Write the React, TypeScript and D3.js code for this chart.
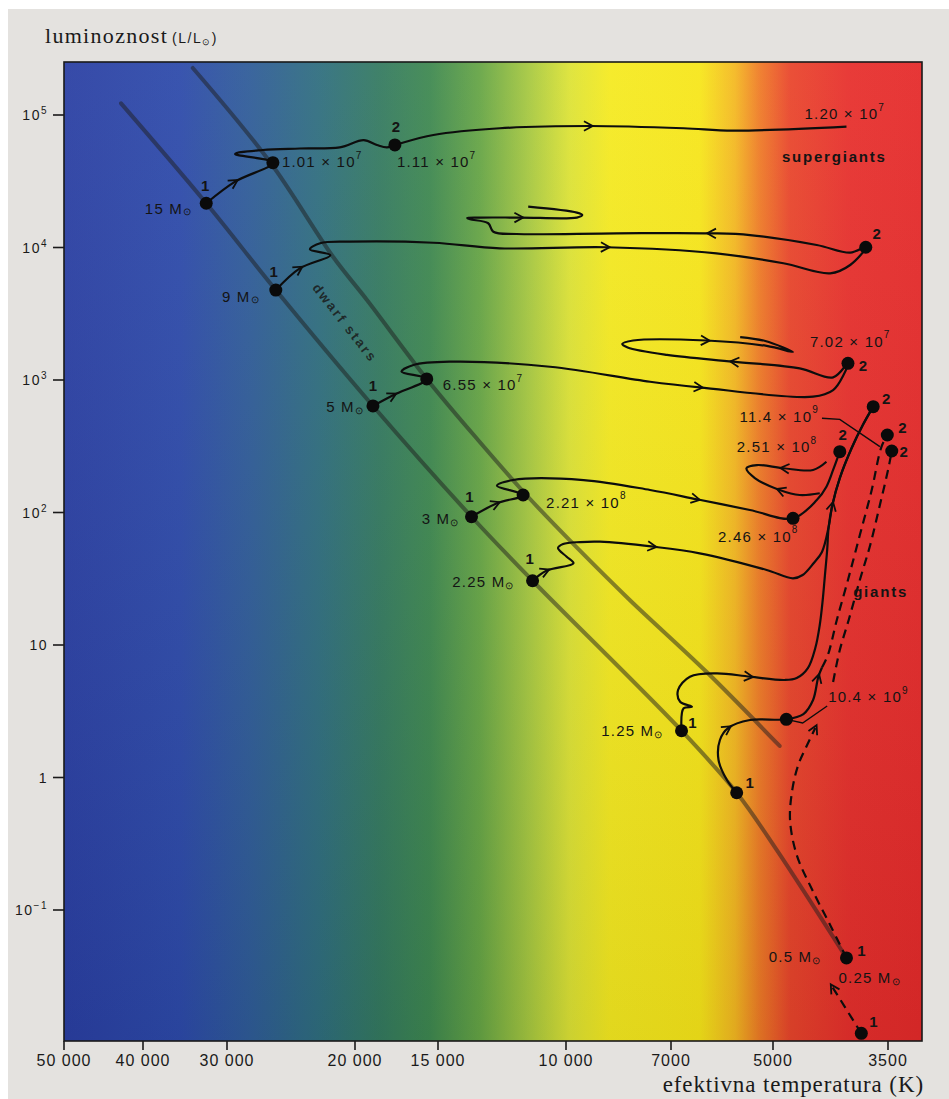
import React from 'react';
import * as d3 from 'd3';

type P = [number, number]; // [log10 Teff, log10 L/Lsun]

// ---------------- data ----------------
const TEMP_TICKS = [50000, 40000, 30000, 20000, 15000, 10000, 7000, 5000, 3500];
const TEMP_LABELS = ['50 000', '40 000', '30 000', '20 000', '15 000', '10 000', '7000', '5000', '3500'];
const LUM_TICKS = [1e5, 1e4, 1e3, 1e2, 10, 1, 0.1];
const LUM_BASE = ['10', '10', '10', '10', '10', '1', '10'];
const LUM_EXP = ['5', '4', '3', '2', '', '', '\u22121'];

// main-sequence band edges
const ZAMS: P[] = [[4.629, 5.088], [4.508, 4.334], [4.410, 3.679], [4.274, 2.804], [4.130, 1.968], [4.046, 1.485], [3.830, 0.353], [3.751, -0.115], [3.694, -0.547], [3.600, -1.362]];
const TAMS: P[] = [[4.528, 5.355], [4.418, 4.645], [4.331, 3.928], [4.283, 3.604], [4.193, 3.008], [4.121, 2.547], [4.052, 2.117], [3.982, 1.725], [3.906, 1.340], [3.794, 0.796], [3.690, 0.238]];

// evolutionary tracks
const TRACK_15: P[] = [[4.508, 4.334], [4.466, 4.497], [4.414, 4.640], [4.466, 4.706], [4.428, 4.736], [4.377, 4.747], [4.322, 4.756], [4.288, 4.811], [4.268, 4.774], [4.253, 4.756], [4.241, 4.774], [4.183, 4.849], [4.091, 4.900], [3.965, 4.917], [3.827, 4.900], [3.756, 4.882], [3.600, 4.912]];
const ARROWS_15 = [[1, 1], [13, 1]];
const TRACK_9: P[] = [[4.410, 3.679], [4.377, 3.843], [4.335, 3.943], [4.363, 3.986], [4.349, 4.032], [4.308, 4.044], [4.183, 4.036], [4.091, 3.994], [3.940, 4.002], [3.780, 3.956], [3.685, 3.881], [3.622, 3.805], [3.595, 3.868], [3.574, 4.002], [3.595, 3.961], [3.640, 4.019], [3.732, 4.094], [3.789, 4.107], [3.925, 4.107], [4.068, 4.102], [4.100, 4.119], [4.107, 4.183], [4.132, 4.213], [4.136, 4.223], [4.118, 4.226], [4.063, 4.226], [3.984, 4.226], [3.976, 4.245], [3.984, 4.263], [4.052, 4.308]];
const ARROWS_9 = [[1, 1], [8, 1], [17, 1], [25, 1]];
const TRACK_5: P[] = [[4.274, 2.804], [4.243, 2.887], [4.193, 3.008], [4.231, 3.063], [4.213, 3.113], [4.160, 3.138], [4.022, 3.100], [3.876, 2.987], [3.804, 2.945], [3.645, 2.874], [3.618, 2.924], [3.604, 3.038], [3.598, 3.126], [3.618, 3.020], [3.663, 3.088], [3.756, 3.138], [3.851, 3.189], [3.909, 3.245], [3.917, 3.272], [3.901, 3.298], [3.794, 3.298], [3.708, 3.257], [3.672, 3.211], [3.710, 3.294], [3.746, 3.324]];
const ARROWS_5 = [[1, 1], [8, 1], [15, 1], [20, 1]];
const TRACK_3: P[] = [[4.130, 1.968], [4.095, 2.069], [4.059, 2.132], [4.095, 2.202], [4.073, 2.245], [3.974, 2.245], [3.876, 2.170], [3.808, 2.100], [3.732, 2.019], [3.672, 1.956], [3.640, 2.094], [3.627, 2.195], [3.618, 2.321], [3.609, 2.459]];
const ARROWS_3 = [[1, 1], [7, 1]];
const TRACK_3_LOOP: P[] = [[3.636, 2.145], [3.663, 2.132], [3.690, 2.170], [3.725, 2.260], [3.737, 2.334], [3.722, 2.358], [3.685, 2.334], [3.645, 2.321], [3.627, 2.383]];
const ARROWS_3_LOOP = [[2, 1], [6, -1]];
const TRACK_225: P[] = [[4.046, 1.485], [4.027, 1.561], [3.989, 1.617], [3.999, 1.666], [4.011, 1.732], [4.004, 1.762], [3.979, 1.777], [3.950, 1.780], [3.871, 1.742], [3.804, 1.692], [3.708, 1.566], [3.672, 1.503], [3.659, 1.528], [3.644, 1.619], [3.633, 1.702], [3.624, 1.891], [3.619, 2.057], [3.609, 2.260], [3.593, 2.487], [3.578, 2.660], [3.564, 2.799]];
const ARROWS_225 = [[1, 1], [8, 1], [16, 1]];
const TRACK_125: P[] = [[3.830, 0.353], [3.827, 0.522], [3.815, 0.534], [3.832, 0.572], [3.835, 0.660], [3.818, 0.761], [3.780, 0.786], [3.732, 0.761], [3.683, 0.736], [3.667, 0.751], [3.652, 0.826], [3.642, 0.977], [3.636, 1.151], [3.632, 1.340], [3.629, 1.528], [3.626, 1.717], [3.624, 1.891], [3.619, 2.057], [3.609, 2.260], [3.593, 2.487], [3.578, 2.660], [3.564, 2.799]];
const ARROWS_125 = [[7, 1]];
const TRACK_1: P[] = [[3.751, -0.115], [3.765, -0.019], [3.777, 0.132], [3.775, 0.283], [3.763, 0.374], [3.732, 0.434], [3.681, 0.439], [3.658, 0.479], [3.645, 0.585], [3.638, 0.758], [3.633, 0.830]];
const ARROWS_1 = [[4, 1], [9, 1]];
const TRACK_1_HIGH: P[] = [[3.633, 0.830], [3.625, 0.925], [3.613, 1.189], [3.598, 1.491], [3.582, 1.830], [3.566, 2.170], [3.553, 2.494], [3.545, 2.585]];
const TRACK_05_LOW: P[] = [[3.600, -1.362], [3.622, -1.113], [3.646, -0.849], [3.667, -0.585], [3.676, -0.321], [3.673, -0.094], [3.665, 0.094], [3.653, 0.245], [3.642, 0.374]];
const ARROWS_05_LOW = [[8, 1]];
const TRACK_05_HIGH: P[] = [[3.618, 0.721], [3.609, 0.962], [3.597, 1.189], [3.582, 1.491], [3.568, 1.755], [3.555, 2.057], [3.544, 2.321], [3.539, 2.464]];
const TRACK_025: P[] = [[3.580, -1.931], [3.619, -1.581]];
const ARROWS_025 = [[1, 1]];

const LEADER_114: P[] = [[3.633, 2.711], [3.609, 2.703], [3.555, 2.497]];
const LEADER_104: P[] = [[3.681, 0.439], [3.659, 0.411], [3.626, 0.540]];

const DOTS: P[] = [[4.508, 4.334], [4.414, 4.640], [4.241, 4.774], [4.410, 3.679], [3.574, 4.002], [4.274, 2.804], [4.193, 3.008], [3.598, 3.126], [4.130, 1.968], [4.059, 2.132], [3.672, 1.956], [3.609, 2.459], [4.046, 1.485], [3.564, 2.799], [3.830, 0.353], [3.751, -0.115], [3.681, 0.439], [3.545, 2.585], [3.539, 2.464], [3.600, -1.362], [3.580, -1.931]];

const STAGE_POINTS: P[] = [[4.508, 4.334], [4.410, 3.679], [4.274, 2.804], [4.130, 1.968], [4.046, 1.485], [3.830, 0.353], [3.751, -0.115], [3.600, -1.362], [3.580, -1.931], [4.241, 4.774], [3.574, 4.002], [3.598, 3.126], [3.609, 2.459], [3.564, 2.799], [3.545, 2.585], [3.539, 2.464]];
const STAGE_NUMS = ['1', '1', '1', '1', '1', '1', '1', '1', '1', '2', '2', '2', '2', '2', '2', '2'];

const MASS_POINTS: P[] = [[4.508, 4.334], [4.410, 3.679], [4.274, 2.804], [4.130, 1.968], [4.046, 1.485], [3.830, 0.353], [3.600, -1.362], [3.600, -1.362]];
const MASS_VALUES = ['15', '9', '5', '3', '2.25', '1.25', '0.5', '0.25'];

const AGE_POINTS: P[] = [[4.414, 4.640], [4.241, 4.774], [3.600, 4.912], [4.193, 3.008], [3.598, 3.126], [4.059, 2.132], [3.672, 1.956], [3.609, 2.459], [3.633, 2.711], [3.626, 0.540]];
const AGE_MANTISSA = ['1.01', '1.11', '1.20', '6.55', '7.02', '2.21', '2.46', '2.51', '11.4', '10.4'];
const AGE_EXP = ['7', '7', '7', '7', '7', '8', '8', '8', '9', '9'];

const REGION_TEXT = ['supergiants', 'giants'];
const REGION_POINTS: P[] = [[3.687, 4.685], [3.591, 1.402]];
const DWARF_TEXT = 'dwarf stars';
const DWARF_POINT: P = [4.315, 3.430];

// ---------------- layout / style ----------------
const W = 949, H = 1099;
const PLOT = { left: 64, right: 922, top: 62, bottom: 1041 };
const X_RANGE = [64, 143, 227, 355, 438, 566, 671, 773, 888];
const Y_RANGE = [910, 115];
const STAGE_NUDGE = [[-1, -18], [-2, -19], [0, -20], [-2, -20], [-3, -22], [11, -8], [13, -10], [15, -7], [12, -12], [1, -18], [11, -14], [15, 2], [3, -17], [13, -8], [15, -7], [12, 0]];
const MASS_NUDGE: [number, number, string][] = [[-14, 5, 'end'], [-16, 6, 'end'], [-9, 1, 'end'], [-12, 2, 'end'], [-18, 1, 'end'], [-18, 0, 'end'], [-25, -1, 'end'], [-8, 20, 'start']];
const AGE_NUDGE: [number, number, string][] = [[9, -1, 'start'], [2, 17, 'start'], [-42, -13, 'start'], [16, 6, 'start'], [-38, -22, 'start'], [23, 7, 'start'], [-75, 18, 'start'], [-103, -5, 'start'], [-3, -2, 'end'], [1, -9, 'start']];
const GRAD: [number, string][] = [[64, '#2a3fa3'], [180, '#2d4aaa'], [250, '#2f5c98'], [320, '#2f6e7e'], [380, '#347a60'], [430, '#3e8850'], [480, '#66a545'], [530, '#a8c940'], [570, '#dde335'], [610, '#f5ea20'], [700, '#f7e619'], [735, '#f4b821'], [760, '#ef7a26'], [790, '#e9452b'], [850, '#e72f2c'], [922, '#e52a2a']];

const SANS = '"Liberation Sans", Arial, Helvetica, sans-serif';
const SERIF = '"Liberation Serif", "Times New Roman", serif';

const x = d3.scaleLog().domain(TEMP_TICKS).range(X_RANGE);
const y = d3.scaleLog().domain([0.1, 1e5]).range(Y_RANGE);
const px = (p: P) => x(Math.pow(10, p[0]));
const py = (p: P) => y(Math.pow(10, p[1]));

const curve = d3.line<P>().x(px).y(py).curve(d3.curveCatmullRom.alpha(0.5));
const straight = d3.line<P>().x(px).y(py);

function chevron(pts: P[], i: number, dir: number) {
  const n = pts.length;
  const a = pts[Math.max(0, i - 1)], b = pts[Math.min(n - 1, i + 1)];
  let vx = (px(b) - px(a)) * dir, vy = (py(b) - py(a)) * dir;
  const len = Math.hypot(vx, vy) || 1;
  vx /= len; vy /= len;
  const tx = px(pts[i]) + vx * 3, ty = py(pts[i]) + vy * 3;
  const L = 10, ang = 0.5;
  const bx = -vx, by = -vy;
  const r = (t: number) => [bx * Math.cos(t) - by * Math.sin(t), bx * Math.sin(t) + by * Math.cos(t)];
  const w1 = r(ang), w2 = r(-ang);
  return `M${tx + w1[0] * L},${ty + w1[1] * L}L${tx},${ty}L${tx + w2[0] * L},${ty + w2[1] * L}`;
}

const NONE: number[][] = [];
const TRACKS = [
  { pts: TRACK_15, arrows: ARROWS_15, dashed: false },
  { pts: TRACK_9, arrows: ARROWS_9, dashed: false },
  { pts: TRACK_5, arrows: ARROWS_5, dashed: false },
  { pts: TRACK_3, arrows: ARROWS_3, dashed: false },
  { pts: TRACK_3_LOOP, arrows: ARROWS_3_LOOP, dashed: false },
  { pts: TRACK_225, arrows: ARROWS_225, dashed: false },
  { pts: TRACK_125, arrows: ARROWS_125, dashed: false },
  { pts: TRACK_1, arrows: ARROWS_1, dashed: false },
  { pts: TRACK_1_HIGH, arrows: NONE, dashed: true },
  { pts: TRACK_05_LOW, arrows: ARROWS_05_LOW, dashed: true },
  { pts: TRACK_05_HIGH, arrows: NONE, dashed: true },
  { pts: TRACK_025, arrows: ARROWS_025, dashed: true },
];

const Sun = () => <tspan fontSize={10} dy={3}>{'\u2299'}</tspan>;

export default function App() {
  const pw = PLOT.right - PLOT.left;
  return (
    <svg width={W} height={H} style={{ position: 'absolute', left: 0, top: 0, display: 'block' }} xmlns="http://www.w3.org/2000/svg">
      <defs>
        <linearGradient id="spec" gradientUnits="userSpaceOnUse" x1={PLOT.left} x2={PLOT.right} y1={0} y2={0}>
          {GRAD.map(([p, c], i) => <stop key={i} offset={(p - PLOT.left) / pw} stopColor={c} />)}
        </linearGradient>
        <linearGradient id="shade" x1={0} x2={0} y1={0} y2={1}>
          <stop offset={0} stopColor="#ffffff" stopOpacity={0.06} />
          <stop offset={1} stopColor="#000000" stopOpacity={0.08} />
        </linearGradient>
      </defs>
      <rect x={0} y={0} width={W} height={H} fill="#ffffff" />
      <rect x={8} y={9} width={W - 8} height={H - 9} fill="#e4e2df" />
      <rect x={PLOT.left} y={PLOT.top} width={pw} height={PLOT.bottom - PLOT.top} fill="url(#spec)" />
      <rect x={PLOT.left} y={PLOT.top} width={pw} height={PLOT.bottom - PLOT.top} fill="url(#shade)" />

      {/* main sequence band */}
      <path d={curve(ZAMS) || ''} fill="none" stroke="#1e1e1e" strokeOpacity={0.5} strokeWidth={4} strokeLinecap="round" />
      <path d={curve(TAMS) || ''} fill="none" stroke="#1e1e1e" strokeOpacity={0.5} strokeWidth={4} strokeLinecap="round" />
      <text transform={`translate(${px(DWARF_POINT)},${py(DWARF_POINT)}) rotate(52)`} textAnchor="middle" dominantBaseline="central"
        fontFamily={SANS} fontWeight={700} fontSize={13.5} letterSpacing={2.2} fill="#1a1a1a" fillOpacity={0.85}>{DWARF_TEXT}</text>

      {/* tracks */}
      {TRACKS.map((t, i) => (
        <g key={i}>
          <path d={curve(t.pts) || ''} fill="none" stroke="#0d0d0d" strokeWidth={2.2}
            strokeDasharray={t.dashed ? '9 6' : undefined} strokeLinejoin="round" />
          {t.arrows.map(([k, dir], j) => (
            <path key={j} d={chevron(t.pts, k, dir)} fill="none" stroke="#0d0d0d" strokeWidth={1.8} strokeLinejoin="miter" />
          ))}
        </g>
      ))}
      <path d={straight(LEADER_114) || ''} fill="none" stroke="#0d0d0d" strokeWidth={1.4} />
      <path d={straight(LEADER_104) || ''} fill="none" stroke="#0d0d0d" strokeWidth={1.4} />

      {DOTS.map((d, i) => <circle key={i} cx={px(d)} cy={py(d)} r={6.5} fill="#0a0a0a" />)}

      {/* labels */}
      <g fontFamily={SANS} fill="#141414">
        {STAGE_POINTS.map((p, i) => (
          <text key={i} x={px(p) + STAGE_NUDGE[i][0]} y={py(p) + STAGE_NUDGE[i][1]} textAnchor="middle" dominantBaseline="central"
            fontSize={15} fontWeight={700}>{STAGE_NUMS[i]}</text>
        ))}
        {MASS_POINTS.map((p, i) => (
          <text key={i} x={px(p) + MASS_NUDGE[i][0]} y={py(p) + MASS_NUDGE[i][1]} textAnchor={MASS_NUDGE[i][2] as any}
            dominantBaseline="central" fontSize={15} letterSpacing={1.2}>{MASS_VALUES[i]} M<Sun /></text>
        ))}
        {AGE_POINTS.map((p, i) => (
          <text key={i} x={px(p) + AGE_NUDGE[i][0]} y={py(p) + AGE_NUDGE[i][1]} textAnchor={AGE_NUDGE[i][2] as any}
            dominantBaseline="central" fontSize={15} letterSpacing={1.2}>{AGE_MANTISSA[i]} {'\u00d7'} 10<tspan fontSize={10} dy={-7}>{AGE_EXP[i]}</tspan></text>
        ))}
        {REGION_POINTS.map((p, i) => (
          <text key={i} x={px(p)} y={py(p)} dominantBaseline="central" fontSize={15} fontWeight={700} letterSpacing={1.8}>{REGION_TEXT[i]}</text>
        ))}
      </g>

      {/* frame */}
      <rect x={PLOT.left} y={PLOT.top} width={pw} height={PLOT.bottom - PLOT.top} fill="none" stroke="#1a1a1a" strokeWidth={1.6} />

      {/* axes */}
      <g fontFamily={SANS} fill="#1a1a1a">
        {TEMP_TICKS.map((t, i) => (
          <g key={i}>
            <line x1={x(t)} x2={x(t)} y1={PLOT.bottom} y2={PLOT.bottom + 9} stroke="#1a1a1a" strokeWidth={1.6} />
            <text x={x(t)} y={1066} textAnchor="middle" fontSize={16} letterSpacing={1}>{TEMP_LABELS[i]}</text>
          </g>
        ))}
        {LUM_TICKS.map((l, i) => (
          <g key={i}>
            <line x1={53} x2={PLOT.left} y1={y(l)} y2={y(l)} stroke="#1a1a1a" strokeWidth={1.6} />
            <text x={48} y={y(l) + 5} textAnchor="end" fontSize={14} letterSpacing={1.5}>
              {LUM_BASE[i]}{LUM_EXP[i] ? <tspan fontSize={10} dy={-6}>{LUM_EXP[i]}</tspan> : null}
            </text>
          </g>
        ))}
      </g>
      <text x={45} y={43} fontFamily={SERIF} fontSize={22} letterSpacing={1.3} fill="#1a1a1a">luminoznost
        <tspan fontFamily={SANS} fontSize={14} letterSpacing={1.5} dx={4}>(L/L<tspan fontSize={9} dy={2}>{'\u2299'}</tspan><tspan dy={-2}>)</tspan></tspan>
      </text>
      <text x={PLOT.right + 2} y={1092} textAnchor="end" fontFamily={SERIF} fontSize={23} letterSpacing={0.9} fill="#1a1a1a">efektivna temperatura (K)</text>
    </svg>
  );
}
